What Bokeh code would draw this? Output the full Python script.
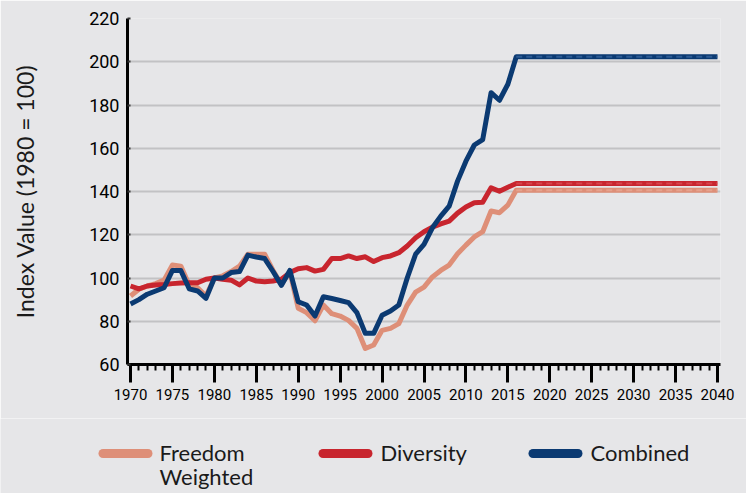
from bokeh.plotting import figure
from bokeh.models import SingleIntervalTicker, FixedTicker, Range1d
from bokeh.layouts import column
from bokeh.embed import file_html
from bokeh.resources import INLINE
from bokeh.core.properties import value

# ---------------- data ----------------
years = list(range(1970, 2017))

freedom = [91.7, 94.8, 96.3, 97.4, 99.0, 106.0, 105.5, 96.8, 95.5, 91.7,
           100.0, 101.0, 103.0, 105.5, 111.0, 111.0, 111.0, 103.5, 97.0, 103.0,
           86.0, 84.0, 80.2, 87.5, 83.5, 82.4, 80.4, 76.7, 67.4, 69.0,
           75.8, 76.7, 78.9, 87.5, 93.5, 95.8, 100.5, 103.5, 106.0, 111.2,
           115.2, 119.0, 121.4, 131.0, 130.2, 133.7, 140.6]

diversity = [96.3, 95.0, 96.3, 96.8, 97.0, 97.4, 97.7, 97.8, 97.8, 99.4,
             100.0, 99.4, 99.0, 96.8, 100.0, 98.6, 98.3, 98.6, 99.4, 102.5,
             104.3, 104.8, 103.2, 104.0, 109.0, 109.0, 110.2, 109.0, 109.8, 107.6,
             109.4, 110.2, 111.7, 114.8, 118.6, 121.4, 123.5, 125.0, 126.3, 130.0,
             132.8, 134.8, 135.0, 141.7, 140.1, 142.0, 143.7]

combined = [88.0, 90.0, 92.5, 94.0, 95.5, 103.5, 103.5, 95.0, 94.0, 90.6,
            100.0, 100.0, 102.5, 103.0, 110.6, 109.7, 109.0, 103.0, 96.6, 103.5,
            89.0, 87.5, 82.4, 91.3, 90.5, 89.6, 88.6, 84.0, 74.4, 74.4,
            82.8, 84.7, 87.5, 100.0, 111.0, 115.5, 123.2, 128.6, 133.2, 144.8,
            154.0, 161.5, 164.0, 185.7, 182.2, 189.6, 202.3]

proj_years = [2016, 2040]
freedom_proj = [140.6, 140.6]
diversity_proj = [143.7, 143.7]
combined_proj = [202.3, 202.3]

series_names = ["Freedom\nWeighted", "Diversity", "Combined"]
y_ticks_grid = [80, 100, 120, 140, 160, 180, 200]

# ---------------- style ----------------
BG = "#e6e6e8"
COLORS = ["#de8f78", "#c8252e", "#0b3a72"]
DASH_COLORS = ["#e9a996", "#dc525a", "#3a6aa3"]
NARROW = "Roboto"
SANS = "Lato"

p = figure(width=746, height=418,
           x_range=Range1d(1969.64, 2040.36), y_range=Range1d(60, 220),
           output_backend="svg", toolbar_location=None,
           min_border_left=127, min_border_right=26,
           min_border_top=18, min_border_bottom=54)
p.frame_align = False
p.background_fill_color = BG
p.border_fill_color = BG
p.outline_line_color = None

all_series = [(freedom, freedom_proj), (diversity, diversity_proj), (combined, combined_proj)]
for (vals, proj), col, dcol in zip(all_series, COLORS, DASH_COLORS):
    xs = years + proj_years[1:]
    ys = vals + proj[1:]
    p.line(xs, ys, line_color=col, line_width=5, line_join="round")
    p.line(proj_years, proj, line_color=dcol, line_width=2, line_dash="6 4", line_alpha=0.7)

# x axis
p.xaxis.ticker = SingleIntervalTicker(interval=5, num_minor_ticks=5)
p.xaxis.axis_line_width = 3
p.xaxis.axis_line_color = "black"
p.xaxis.major_tick_out = 18
p.xaxis.major_tick_in = 0
p.xaxis.minor_tick_out = 6
p.xaxis.minor_tick_in = 0
p.xaxis.major_tick_line_width = 3
p.xaxis.minor_tick_line_width = 2
p.xaxis.major_tick_line_color = "black"
p.xaxis.minor_tick_line_color = "black"
p.xaxis.major_label_text_font = NARROW
p.xaxis.major_label_text_font_size = "15px"
p.xaxis.major_label_text_color = "black"
p.xaxis.major_label_standoff = 6

# y axis
p.yaxis.ticker = SingleIntervalTicker(interval=20, num_minor_ticks=0)
p.yaxis.axis_line_width = 3
p.yaxis.axis_line_color = "black"
p.yaxis.major_tick_out = 0
p.yaxis.major_tick_in = 3
p.yaxis.major_tick_line_width = 2
p.yaxis.major_tick_line_color = "#333333"
p.yaxis.minor_tick_line_color = None
p.yaxis.major_label_text_font = NARROW
p.yaxis.major_label_text_font_size = "18px"
p.yaxis.major_label_text_color = "black"
p.yaxis.major_label_standoff = 8
p.yaxis.axis_label = "Index Value (1980 = 100)"
p.yaxis.axis_label_text_font = SANS
p.yaxis.axis_label_text_font_size = "23px"
p.yaxis.axis_label_text_font_style = "normal"
p.yaxis.axis_label_text_color = "#1a1a1a"
p.yaxis.axis_label_standoff = 47

p.xgrid.visible = False
p.ygrid.ticker = FixedTicker(ticks=y_ticks_grid)
p.ygrid.grid_line_color = "#c2c2c4"
p.ygrid.grid_line_width = 2

# ---------------- legend strip (second figure, pixel coordinates) ----------------
q = figure(width=746, height=75, x_range=Range1d(0, 746), y_range=Range1d(0, 75),
           output_backend="svg", toolbar_location=None,
           x_axis_type=None, y_axis_type=None,
           min_border_left=0, min_border_right=0, min_border_top=0, min_border_bottom=0)
q.frame_align = False
q.background_fill_color = BG
q.border_fill_color = BG
q.outline_line_color = None

swatch_x0 = [102.5, 322.5, 532.5]
text_x = [159, 380, 590]
for name, col, x0, tx in zip(series_names, COLORS, swatch_x0, text_x):
    q.line([x0, x0 + 45], [40, 40], line_color=col, line_width=9, line_cap="round")
    for i, ln in enumerate(name.split("\n")):
        q.text([tx], [41 - 24 * i], text=[ln], text_font=value(SANS),
               text_font_size="22px", text_color="#1a1a1a",
               text_baseline="alphabetic", text_align="left")

layout = column(p, q, spacing=0)
open("out.html", "w").write(file_html(layout, INLINE))
